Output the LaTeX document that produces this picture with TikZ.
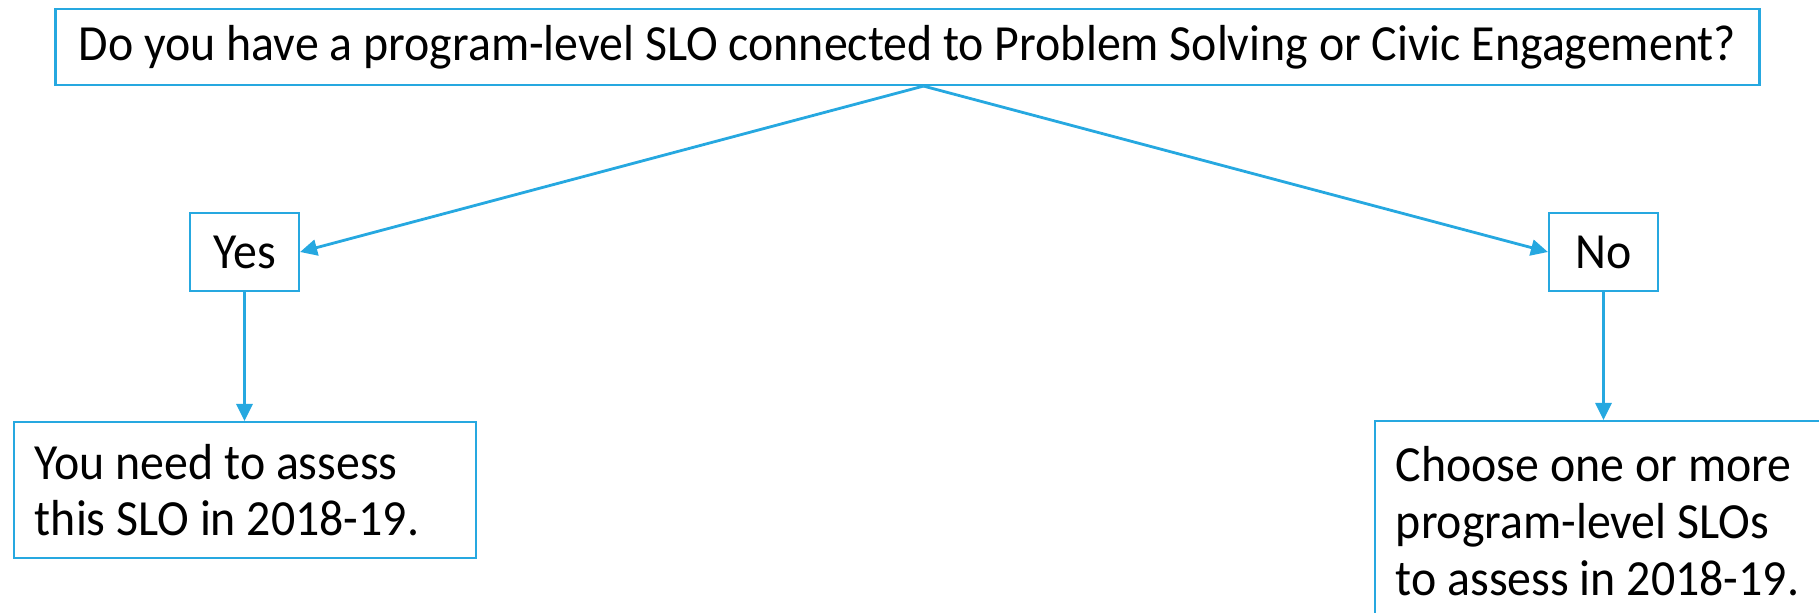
\documentclass[tikz,border=0pt]{standalone}
\usepackage{fontspec}
\setmainfont{Carlito}[FakeStretch=0.945]
\usetikzlibrary{arrows.meta}
\definecolor{flowblue}{RGB}{38,168,224}
\begin{document}
\begin{tikzpicture}[x=0.01cm, y=-0.01cm,
  every node/.style = {draw=flowblue, line width=0.6pt, inner sep=0pt,
    font=\fontsize{14.4}{16.2}\selectfont},
  answer/.style = {minimum width=1.09cm, minimum height=0.78cm},
  outcome/.style = {anchor=north, text width=4.2cm, inner xsep=0.21cm,
    align=flush left, minimum height=1.36cm},
  link/.style = {draw=flowblue, line width=0.8pt,
    -{Triangle[length=0.17cm, width=0.16cm]}}
  ]
  \useasboundingbox (0,0) rectangle (1819,612);
  \clip (0,0) rectangle (1819,612);
  \node[minimum width=17.03cm, minimum height=0.76cm] (question) at (907.5,47)
    {Do you have a program-level SLO connected to Problem Solving or Civic Engagement?};
  \coordinate (fork) at ([xshift=0.16cm]question.south);
  \node[answer] (yes) at (244.5,252) {Yes};
  \node[answer] (no) at (1603.5,252) {No};
  \node[outcome] (assess) at (245,421) {You need to assess\\ this SLO in 2018-19.};
  \node[outcome, minimum height=2cm] (choose) at (1606,420)
    {Choose one or more\\ program-level SLOs\\ to assess in 2018-19.};
  \draw[link] (fork) -- (yes.east);
  \draw[link] (fork) -- (no.west);
  \draw[link] (yes.south) -- (yes.south |- assess.north);
  \draw[link] (no.south) -- (no.south |- choose.north);
\end{tikzpicture}
\end{document}
